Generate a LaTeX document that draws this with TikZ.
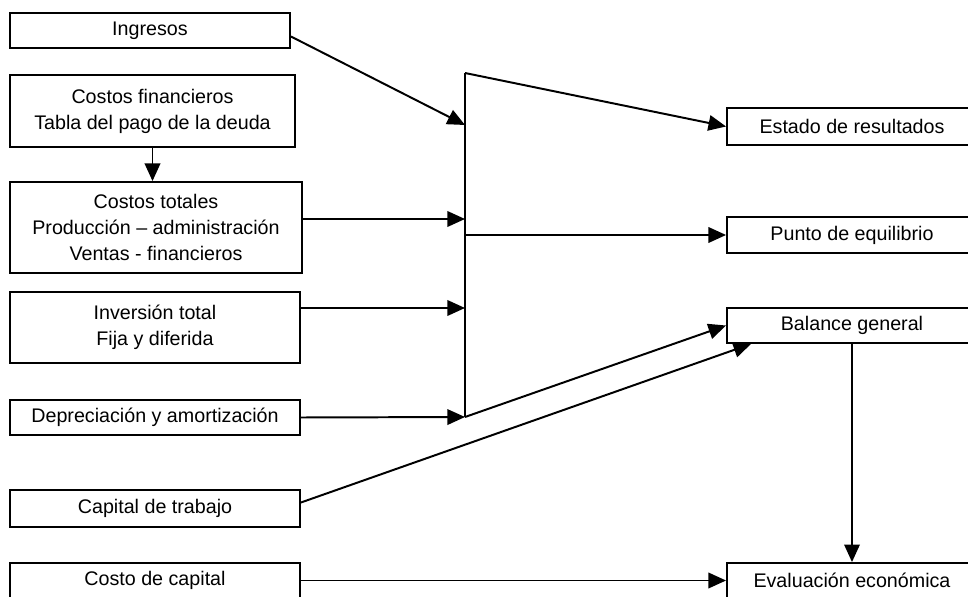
\documentclass[tikz,border=0pt]{standalone}
\usepackage{fontspec}
\setmainfont{Liberation Sans}
\usetikzlibrary{arrows.meta}

\begin{document}
\begin{tikzpicture}
      [x=0.025cm, y=-0.025cm,
      box/.style={rectangle, draw=black, line width=1.3pt, inner sep=0pt, align=center,
        font=\fontsize{14}{18.5}\selectfont},
      arr/.style={-{Triangle[length=12.5pt,width=11pt]}, line width=1.4pt},
      link/.style={line width=1.4pt}]
      \useasboundingbox (0,0) rectangle (968,597);
      % resultados
      \node (er) at (852, 126.5) [box, minimum width=6.25cm, minimum height=0.925cm] {Estado de resultados};
      \node (pe) at (852, 235) [box, minimum width=6.25cm, minimum height=0.9cm] {Punto de equilibrio};
      \node (bg) at (852, 325.5) [box, minimum width=6.25cm, minimum height=0.875cm] {Balance general};
      \node (ev) at (852, 580.5) [box, minimum width=6.25cm, minimum height=0.875cm] {Evaluación económica};
      % datos de entrada
      \node (ing) at (150, 30.5) [box, minimum width=7cm, minimum height=0.875cm] {Ingresos};
      \node (cfin) at (152.5, 111) [box, minimum width=7.125cm, minimum height=1.8cm]
        {Costos financieros\\Tabla del pago de la deuda};
      \node (ctot) at (156, 227.5) [box, minimum width=7.3cm, minimum height=2.275cm]
        {Costos totales\\Producción -- administración\\Ventas - financieros};
      \node (inv) at (155, 327.5) [box, minimum width=7.25cm, minimum height=1.775cm]
        {Inversión total\\Fija y diferida};
      \node (dep) at (155, 417.5) [box, minimum width=7.25cm, minimum height=0.875cm] {Depreciación y amortización};
      \node (cap) at (155, 508.5) [box, minimum width=7.25cm, minimum height=0.925cm] {Capital de trabajo};
      \node (cc) at (155, 580.5) [box, minimum width=7.25cm, minimum height=0.875cm] {Costo de capital};
      % barra colectora
      \coordinate (bartop) at (465, 73);
      \coordinate (barbot) at (465, 417);
      \coordinate (in1) at (465, 125);
      \coordinate (in2) at (465, 219);
      \coordinate (in3) at (465, 308);
      \draw[link] (bartop) -- (barbot);
      \draw[arr] ([yshift=-0.15cm]ing.east) -- (in1);
      \draw[arr] (cfin.south) -- (cfin.south |- ctot.north);
      \draw[arr] (ctot.east |- in2) -- (in2);
      \draw[arr] (inv.east |- in3) -- (in3);
      \draw[arr] (dep.east) -- (barbot);
      \draw[arr] (bartop) -- (er.west);
      \draw[arr] (bartop |- pe.west) -- (pe.west);
      \draw[arr] (barbot) -- (bg.west);
      \draw[arr] ([yshift=0.15cm]cap.east) -- ([xshift=0.625cm]bg.south west);
      \draw[arr] (bg.south) -- (ev.north);
      \draw[arr] (cc.east) -- (ev.west);
    \end{tikzpicture}
\end{document}
